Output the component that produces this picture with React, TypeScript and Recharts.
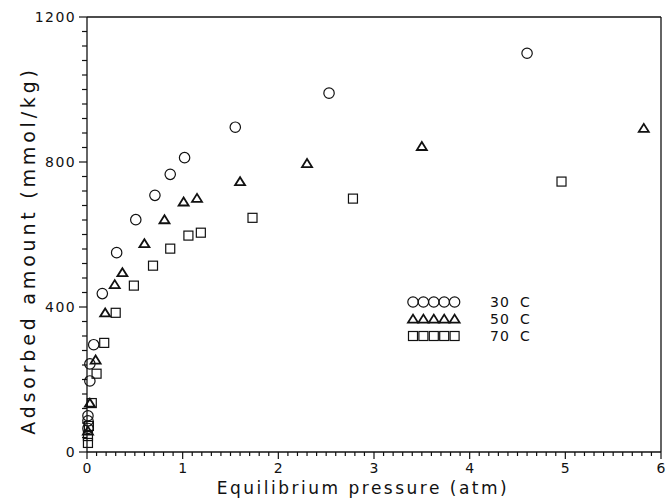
import React from 'react';
import { Legend, ReferenceLine, Scatter, ScatterChart, XAxis, YAxis } from 'recharts';

// readings taken off the figure: [pressure (atm), adsorbed (mmol/kg)]
const series30C = [
  [0.01, 65], [0.01, 86], [0.01, 100], [0.03, 196], [0.03, 243], [0.07, 296], [0.16, 437],
  [0.31, 550], [0.51, 641], [0.71, 708], [0.87, 766], [1.02, 812], [1.55, 896],
  [2.53, 990], [4.6, 1100],
];
const series50C = [
  [0.01, 58], [0.03, 135], [0.09, 254], [0.19, 384], [0.29, 462], [0.37, 495],
  [0.6, 575], [0.81, 641], [1.01, 690], [1.15, 700], [1.6, 746], [2.3, 796],
  [3.5, 843], [5.82, 893],
];
const series70C = [
  [0.01, 25], [0.01, 44], [0.02, 72], [0.05, 135], [0.1, 216], [0.18, 301], [0.3, 384],
  [0.49, 459], [0.69, 514], [0.87, 561], [1.06, 597], [1.19, 605], [1.73, 646],
  [2.78, 699], [4.96, 746],
];
const seriesNames = ['30', '50', '70'];

const xMajorTicks = [0, 1, 2, 3, 4, 5, 6];
const yMajorTicks = [0, 400, 800, 1200];
const xMinorTicks = Array.from({ length: 61 }, (_, i) => +(i * 0.1).toFixed(1)).filter(
  (v) => !xMajorTicks.includes(v)
);
const yMinorTicks = Array.from({ length: 31 }, (_, i) => i * 40).filter((v) => !yMajorTicks.includes(v));

// minor tick length, in axis units (about 4-5 px)
const X_MINOR_LEN = 11; // mmol/kg below the x axis
const Y_MINOR_LEN = 0.052; // atm left of the y axis

const toPoints = (rows: number[][]) => rows.map(([p, q]) => ({ p, q }));

const FONT = '"DejaVu Sans", sans-serif';
const INK = '#111';

const CircleMark = ({ cx, cy }: any) => (
  <circle cx={cx} cy={cy} r={5.2} fill="none" stroke={INK} strokeWidth={1.2} />
);
const TriangleMark = ({ cx, cy }: any) => (
  <path
    d={`M${cx - 5},${cy + 3.6} L${cx + 5},${cy + 3.6} L${cx},${cy - 4.4} Z`}
    fill="none"
    stroke={INK}
    strokeWidth={1.8}
  />
);
const SquareMark = ({ cx, cy }: any) => (
  <rect x={cx - 4.5} y={cy - 4.5} width={9} height={9} fill="none" stroke={INK} strokeWidth={1.2} />
);

const marks = [CircleMark, TriangleMark, SquareMark];

const XLabel = ({ x, y, payload }: any) => (
  <text x={x} y={y + 14} textAnchor="middle" fontFamily={FONT} fontSize={14} fill={INK}>
    {payload.value}
  </text>
);

const YLabel = ({ x, y, payload }: any) => (
  <text x={x} y={y + 5} textAnchor="end" fontFamily={FONT} fontSize={14} letterSpacing={1.4} fill={INK}>
    {payload.value}
  </text>
);

const NoLabel = () => <g />;

const LegendBox = () => (
  <svg width={150} height={54}>
    {seriesNames.map((name, row) => {
      const Mark = marks[row];
      const cy = 9 + row * 17;
      return (
        <g key={name}>
          {[0, 1, 2, 3, 4].map((k) => (
            <Mark key={k} cx={9 + k * 10.4} cy={cy} />
          ))}
          <text x={86} y={cy + 5} fontFamily={FONT} fontSize={14} letterSpacing={1} fill={INK}>
            {name}
          </text>
          <text x={116} y={cy + 5} fontFamily={FONT} fontSize={14} fill={INK}>
            C
          </text>
        </g>
      );
    })}
  </svg>
);

export default function App() {
  return (
    <div style={{ position: 'absolute', left: 0, top: 0, background: '#fff' }}>
      <ScatterChart width={666} height={501} margin={{ top: 17, right: 5, bottom: 0, left: 0 }}>
        {/* data axes (thin, against the plot): axis line, major ticks, numbers, titles */}
        <XAxis
          type="number"
          dataKey="p"
          domain={[0, 6]}
          ticks={xMajorTicks}
          interval={0}
          height={1}
          tickSize={7}
          tickMargin={0}
          tick={<XLabel />}
          tickLine={{ stroke: INK, strokeWidth: 1.2 }}
          axisLine={{ stroke: INK, strokeWidth: 1.3 }}
          label={{
            value: 'Equilibrium pressure (atm)',
            position: 'bottom',
            offset: 29,
            dx: -11,
            style: { fontFamily: FONT, fontSize: 17, letterSpacing: 2.5, fill: INK },
          }}
        />
        <YAxis
          type="number"
          dataKey="q"
          domain={[0, 1200]}
          ticks={yMajorTicks}
          interval={0}
          width={1}
          tickSize={8}
          tickMargin={3}
          tick={<YLabel />}
          tickLine={{ stroke: INK, strokeWidth: 1.2 }}
          axisLine={{ stroke: INK, strokeWidth: 1.3 }}
          label={{
            value: 'Adsorbed amount (mmol/kg)',
            angle: -90,
            position: 'left',
            offset: 58,
            dy: 16,
            style: { textAnchor: 'middle', fontFamily: FONT, fontSize: 19, letterSpacing: 3.8, fill: INK },
          }}
        />
        {/* outer spacer axes, keep the margins */}
        <XAxis
          xAxisId="spacer"
          type="number"
          domain={[0, 6]}
          height={48}
          tick={<NoLabel />}
          tickLine={false}
          axisLine={false}
        />
        <YAxis
          yAxisId="spacer"
          type="number"
          domain={[0, 1200]}
          width={86}
          tick={<NoLabel />}
          tickLine={false}
          axisLine={false}
        />
        <ReferenceLine y={1200} stroke={INK} strokeWidth={1.3} />
        <ReferenceLine x={6} stroke={INK} strokeWidth={1.3} />
        {/* minor ticks outside the frame */}
        {xMinorTicks.map((t) => (
          <ReferenceLine
            key={`xm${t}`}
            segment={[{ x: t, y: 0 }, { x: t, y: -X_MINOR_LEN }]}
            ifOverflow="visible"
            stroke={INK}
            strokeWidth={1.2}
          />
        ))}
        {yMinorTicks.map((t) => (
          <ReferenceLine
            key={`ym${t}`}
            segment={[{ x: 0, y: t }, { x: -Y_MINOR_LEN, y: t }]}
            ifOverflow="visible"
            stroke={INK}
            strokeWidth={1.2}
          />
        ))}
        <Legend
          layout="vertical"
          align="center"
          verticalAlign="middle"
          content={<LegendBox />}
          wrapperStyle={{ left: 404, top: 293, width: 150, height: 54 }}
        />
        <Scatter name="30 C" data={toPoints(series30C)} shape={<CircleMark />} isAnimationActive={false} />
        <Scatter name="50 C" data={toPoints(series50C)} shape={<TriangleMark />} isAnimationActive={false} />
        <Scatter name="70 C" data={toPoints(series70C)} shape={<SquareMark />} isAnimationActive={false} />
      </ScatterChart>
    </div>
  );
}
